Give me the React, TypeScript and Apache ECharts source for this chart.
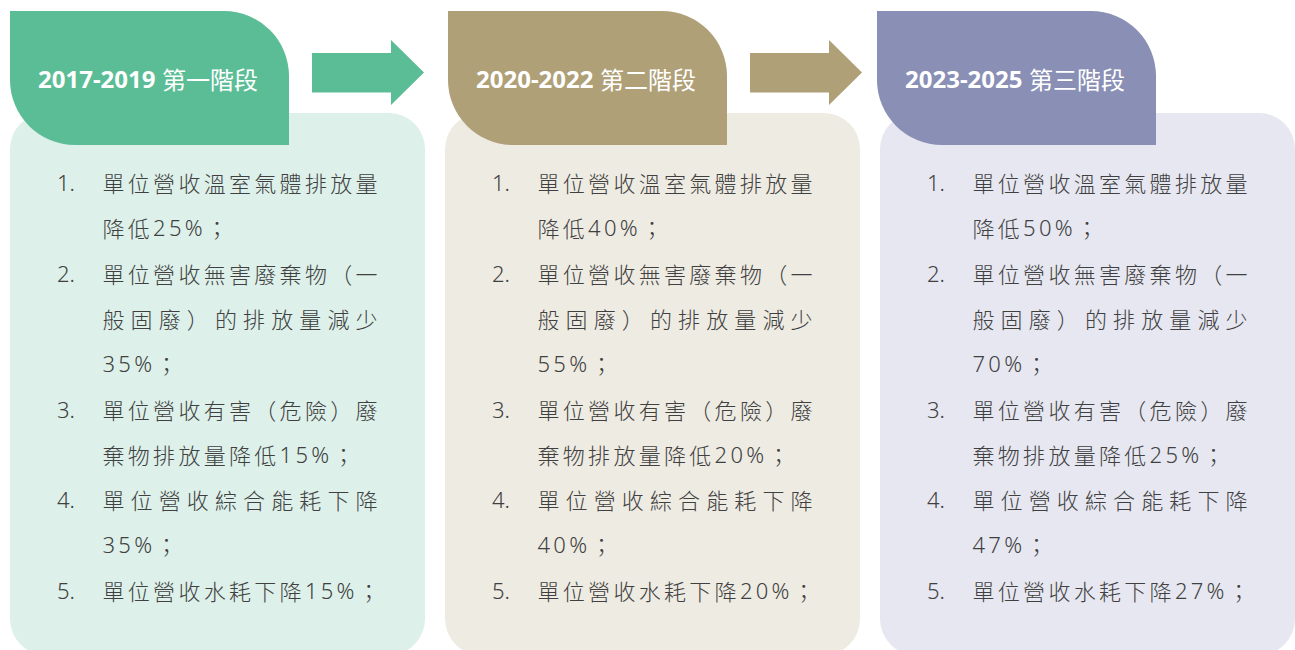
import React, { useEffect, useRef } from "react";
import * as echarts from "echarts";

// ---- data ----
const stageYears = ["2017-2019", "2020-2022", "2023-2025"];
const stageNames = ["第一階段", "第二階段", "第三階段"];
const ghgCut = [25, 40, 50];
const generalWasteCut = [35, 55, 70];
const hazardousWasteCut = [15, 20, 25];
const energyCut = [35, 40, 47];
const waterCut = [15, 20, 27];

// ---- styles / layout ----
const headerColors = ["#5bbd96", "#afa078", "#898fb5"];
const panelColors = ["#ddf0ea", "#eeebe3", "#e6e7f0"];
const panelX = [10, 445, 880];
const panelW = 415;
const headerX = [10, 448, 877];
const arrowX = [312, 750];
const TEXT_COLOR = "#404040";
const LATIN_FAMILY = "'Noto Sans', sans-serif";
const CJK_FAMILY = "'Noto Sans CJK TC', sans-serif";
const BODY_SIZE = 22;
const BODY_WEIGHT = 300;

function itemsFor(i: number): string[][] {
  return [
    ["單位營收溫室氣體排放量", `降低${ghgCut[i]}%；`],
    ["單位營收無害廢棄物（一", "般固廢）的排放量減少", `${generalWasteCut[i]}%；`],
    ["單位營收有害（危險）廢", `棄物排放量降低${hazardousWasteCut[i]}%；`],
    ["單位營收綜合能耗下降", `${energyCut[i]}%；`],
    [`單位營收水耗下降${waterCut[i]}%；`],
  ];
}

let measureCtx: CanvasRenderingContext2D | null = null;
function measure(s: string, font: string): number {
  if (!measureCtx) measureCtx = document.createElement("canvas").getContext("2d");
  if (!measureCtx) return s.length * 12;
  measureCtx.font = font;
  return measureCtx.measureText(s).width;
}

function isCJK(c: string): boolean {
  return c.charCodeAt(0) > 0x2e80;
}

function buildElements(): any[] {
  const els: any[] = [];
  // panels
  for (let k = 0; k < 3; k++) {
    els.push({
      type: "rect",
      shape: { x: panelX[k], y: 113, width: panelW, height: 542, r: 36 },
      style: { fill: panelColors[k] },
    });
  }
  // headers
  for (let k = 0; k < 3; k++) {
    els.push({
      type: "rect",
      shape: { x: headerX[k], y: 11, width: 279, height: 134, r: [0, 65, 0, 65] },
      style: { fill: headerColors[k] },
    });
    els.push({
      type: "text",
      x: headerX[k] + 28,
      y: 78,
      style: {
        text: stageYears[k],
        fill: "#ffffff",
        fontSize: 24,
        fontWeight: "bold",
        fontFamily: LATIN_FAMILY,
        align: "left",
        verticalAlign: "middle",
      },
    });
    els.push({
      type: "text",
      x: headerX[k] + 152,
      y: 78,
      style: {
        text: stageNames[k],
        fill: "#ffffff",
        fontSize: 24,
        fontWeight: "normal",
        fontFamily: CJK_FAMILY,
        align: "left",
        verticalAlign: "middle",
      },
    });
  }
  // arrows
  for (let a = 0; a < 2; a++) {
    const x0 = arrowX[a];
    const bodyEnd = x0 + 79;
    els.push({
      type: "polygon",
      shape: {
        points: [
          [x0, 53],
          [bodyEnd, 53],
          [bodyEnd, 40],
          [bodyEnd + 33, 72.5],
          [bodyEnd, 105],
          [bodyEnd, 92.5],
          [x0, 92.5],
        ],
      },
      style: { fill: headerColors[a] },
    });
  }
  // body text
  const y0 = 182;
  const step = 45.3;
  const targetW = 275;
  for (let k = 0; k < 3; k++) {
    const items = itemsFor(k);
    let row = 0;
    items.forEach((lines, idx) => {
      els.push({
        type: "text",
        x: panelX[k] + 47,
        y: y0 + row * step,
        style: {
          text: `${idx + 1}.`,
          fill: TEXT_COLOR,
          fontSize: BODY_SIZE,
          fontWeight: BODY_WEIGHT,
          fontFamily: LATIN_FAMILY,
          align: "left",
          verticalAlign: "middle",
        },
      });
      lines.forEach((line, li) => {
        const chars = Array.from(line);
        const fams = chars.map((c) => (isCJK(c) ? CJK_FAMILY : LATIN_FAMILY));
        const widths = chars.map((c, ci) =>
          isCJK(c) ? BODY_SIZE : measure(c, `${BODY_WEIGHT} ${BODY_SIZE}px ${fams[ci]}`)
        );
        const sum = widths.reduce((s, w) => s + w, 0);
        const isLast = li === lines.length - 1;
        const gap = isLast ? 3.3 : (targetW - sum) / Math.max(1, chars.length - 1);
        let x = panelX[k] + 92.5;
        const y = y0 + row * step;
        chars.forEach((c, ci) => {
          els.push({
            type: "text",
            x,
            y,
            style: {
              text: c,
              fill: TEXT_COLOR,
              fontSize: BODY_SIZE,
              fontWeight: BODY_WEIGHT,
              fontFamily: fams[ci],
              align: "left",
              verticalAlign: "middle",
            },
          });
          x += widths[ci] + gap;
        });
        row++;
      });
    });
  }
  return els;
}

export default function App() {
  const ref = useRef<HTMLDivElement>(null);
  useEffect(() => {
    if (!ref.current) return;
    const chart = echarts.init(ref.current, undefined, { renderer: "svg" });
    chart.setOption({
      animation: false,
      backgroundColor: "#ffffff",
      graphic: { elements: buildElements() },
    });
    return () => chart.dispose();
  }, []);
  return (
    <div
      ref={ref}
      style={{ position: "fixed", left: 0, top: 0, width: 1295, height: 650 }}
    />
  );
}
